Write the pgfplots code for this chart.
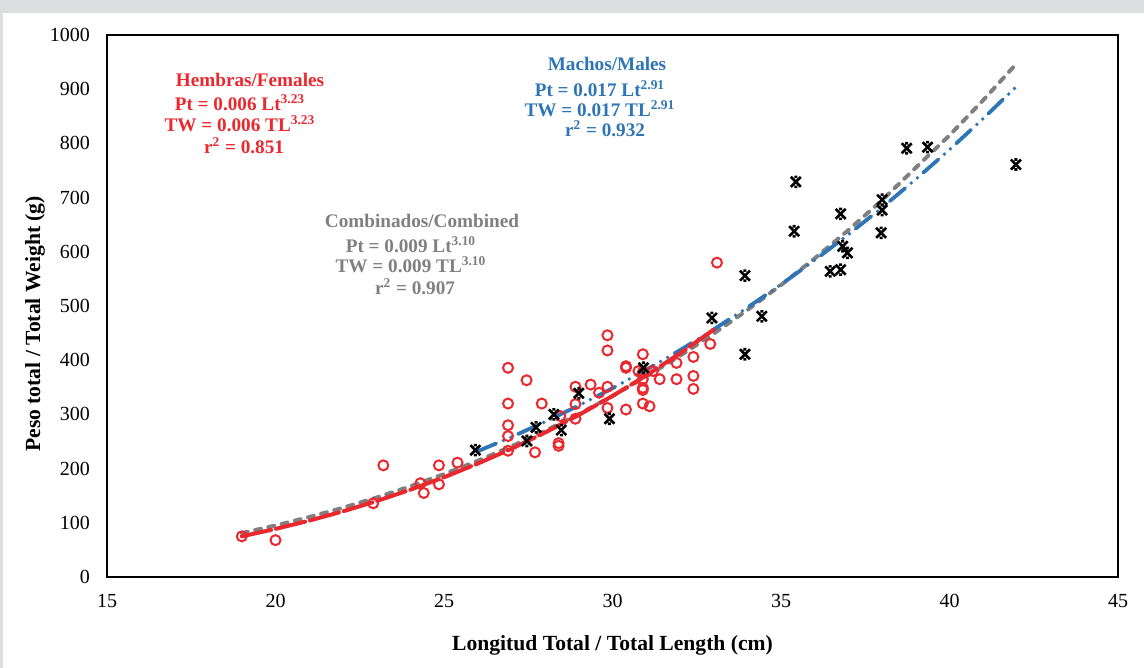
\documentclass[border=0pt]{standalone}
\usepackage{fontspec}
\setmainfont{Liberation Serif}
\usepackage{pgfplots}
\pgfplotsset{compat=1.18}
\definecolor{redc}{RGB}{234,40,46}
\definecolor{bluec}{RGB}{46,117,182}
\definecolor{grayc}{RGB}{128,128,128}
\definecolor{framegray}{RGB}{221,222,224}
\pgfdeclareplotmark{xbar}{%
  \pgfpathmoveto{\pgfqpoint{-\pgfplotmarksize}{-\pgfplotmarksize}}%
  \pgfpathlineto{\pgfqpoint{\pgfplotmarksize}{\pgfplotmarksize}}%
  \pgfpathmoveto{\pgfqpoint{-\pgfplotmarksize}{\pgfplotmarksize}}%
  \pgfpathlineto{\pgfqpoint{\pgfplotmarksize}{-\pgfplotmarksize}}%
  \pgfpathmoveto{\pgfqpoint{-0.3\pgfplotmarksize}{\pgfplotmarksize}}%
  \pgfpathlineto{\pgfqpoint{0.3\pgfplotmarksize}{\pgfplotmarksize}}%
  \pgfpathmoveto{\pgfqpoint{-0.3\pgfplotmarksize}{-\pgfplotmarksize}}%
  \pgfpathlineto{\pgfqpoint{0.3\pgfplotmarksize}{-\pgfplotmarksize}}%
  \pgfusepathqstroke}
\begin{document}
\begin{tikzpicture}
\path[use as bounding box] (0pt,0pt) rectangle (572pt,-334pt);
\fill[framegray] (0pt,0pt) rectangle (572pt,-6.4pt);
\fill[framegray] (0pt,-6.4pt) rectangle (1.3pt,-334pt);
\begin{axis}[
  at={(53.5pt,-288.5pt)}, anchor=south west,
  scale only axis, width=505.5pt, height=271pt,
  xmin=15, xmax=45, ymin=0, ymax=1000,
  xtick={15,20,...,45}, ytick={0,100,...,1000},
  major tick length=0pt,
  axis line style={line width=1.3pt, black},
  /pgf/number format/assume math mode=true,
  /pgf/number format/set thousands separator={},
  ticklabel style={font=\fontsize{10}{12}\selectfont},
  xticklabel style={yshift=-5pt},
  yticklabel style={xshift=-5pt},
  xlabel={Longitud Total / Total Length (cm)},
  ylabel={Peso total / Total Weight (g)},
  label style={font=\fontsize{10.8}{13}\selectfont\bfseries},
  xlabel style={at={(axis description cs:0.5,0)}, anchor=center, yshift=-34pt},
  ylabel style={at={(axis description cs:0,0.467)}, anchor=center, yshift=36pt},
  clip=false,
]
% Combined fit
\addplot[grayc, line width=2pt, line cap=round, dash pattern=on 3pt off 3.8pt] coordinates {
(19,81.1)(20,95.0)(21,110.6)(22,127.7)(23,146.6)(24,167.3)(25,189.8)(26,214.4)(27,241.0)(28,269.7)(29,300.7)(30,334.0)(31,369.8)(32,408.0)(33,448.9)(34,492.4)(35,538.7)(36,587.9)(37,640.0)(38,695.2)(39,755.3)(40,814.9)(41,879.8)(42,948.0)};
% Males fit
\addplot[bluec, line width=1.9pt, line cap=round, dash pattern=on 10pt off 4pt on 0pt off 4pt on 0pt off 4pt] coordinates {
(26,232.0)(27,258.2)(28,286.4)(29,316.4)(30,348.3)(31,382.3)(32,418.4)(33,456.6)(34,497.0)(35,539.6)(36,584.6)(37,631.9)(38,681.6)(39,733.9)(40,788.5)(41,845.8)(42,905.8)};
% Females fit
\addplot[redc, line width=2pt, line cap=round, dash pattern=on 15pt off 2.5pt] coordinates {
(19,75.0)(20,88.7)(21,104.0)(22,121.1)(23,140.1)(24,161.0)(25,184.0)(26,209.2)(27,236.6)(28,266.5)(29,299.0)(30,334.0)(31,371.8)(32,412.5)(33,456.2)};
% Females data
\addplot[only marks, mark=o, mark size=2.5pt, redc, mark options={line width=1pt}] coordinates {
(19,75)(20,68)(22.9,136)(23.2,206)(24.3,173)(24.4,155)(24.85,206)(24.85,171)(25.4,211)
(26.9,386)(27.45,363)(26.9,320)(27.9,320)(26.9,280)(26.9,260)(26.9,233)(27.7,230)(28.4,247)(28.4,242)(28.45,297)
(28.9,351)(28.9,319)(28.9,292)(29.35,355)(29.6,340)(29.85,351)(29.85,446)(29.85,418)(29.85,312)(30.4,309)(30.4,389)(30.4,386)
(30.9,411)(30.9,378)(30.77,380)(31.2,380)(30.9,365)(30.9,349)(30.9,345)(30.9,320)(31.1,315)(31.4,365)(31.9,395)(31.9,365)
(32.4,406)(32.4,371)(32.4,347)(32.9,430)(33.1,580)};
% Males data
\addplot[only marks, mark=xbar, mark size=2.5pt, black, mark options={line width=1.3pt}] coordinates {
(25.93,234)(27.46,251)(27.73,276)(28.26,300)(28.48,271)(29.0,339)(29.91,292)(30.92,386)(32.95,478)(33.93,556)(33.93,411)
(34.43,481)(35.39,638)(35.44,729)(36.77,670)(36.46,564)(36.77,567)(36.83,610)(36.97,598)(38.0,696)(38.0,677)(37.97,635)
(38.73,791)(39.35,793)(41.97,761)};
\end{axis}
\begin{scope}[every node/.style={font=\fontsize{9.6}{11}\selectfont\bfseries, inner sep=0pt}]
\node[redc] at (125pt,-40pt) {Hembras/Females};
\node[redc] at (120pt,-51.5pt) {Pt = 0.006 Lt\textsuperscript{3.23}};
\node[redc] at (120pt,-62pt) {TW = 0.006 TL\textsuperscript{3.23}};
\node[redc] at (122pt,-73pt) {r\textsuperscript{2} = 0.851};
\node[bluec] at (303.5pt,-32pt) {Machos/Males};
\node[bluec] at (300pt,-44.5pt) {Pt = 0.017 Lt\textsuperscript{2.91}};
\node[bluec] at (300pt,-54.5pt) {TW = 0.017 TL\textsuperscript{2.91}};
\node[bluec] at (302.5pt,-64.5pt) {r\textsuperscript{2} = 0.932};
\node[grayc] at (211pt,-110.5pt) {Combinados/Combined};
\node[grayc] at (205.5pt,-122.5pt) {Pt = 0.009 Lt\textsuperscript{3.10}};
\node[grayc] at (205.5pt,-132.5pt) {TW = 0.009 TL\textsuperscript{3.10}};
\node[grayc] at (207.5pt,-143.5pt) {r\textsuperscript{2} = 0.907};
\end{scope}
\end{tikzpicture}
\end{document}
